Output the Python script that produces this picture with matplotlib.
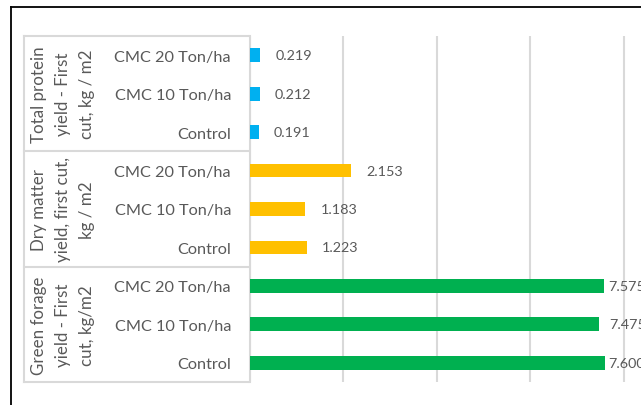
import matplotlib
matplotlib.use("Agg")
import matplotlib.pyplot as plt
from matplotlib.lines import Line2D
import matplotlib.transforms as mtransforms

# ---- data ----
groups = ["Total protein\nyield - First\ncut, kg / m2",
          "Dry matter\nyield, first cut,\nkg / m2",
          "Green forage\nyield - First\ncut, kg/m2"]
treatments = ["CMC 20 Ton/ha", "CMC 10 Ton/ha", "Control"]
protein = [0.219, 0.212, 0.191]
dry_matter = [2.153, 1.183, 1.223]
green_forage = [7.575, 7.475, 7.600]
x_ticks = [0, 2, 4, 6, 8, 10]

# ---- style ----
colors = ["#00B0F0", "#FFC000", "#00B050"]
label_pad_px = [15, 15, 15, 16, 16, 15, 4, 10, 3]
text_color = "#595959"
grid_color = "#D9D9D9"
font = "Lato"

W, H, DPI = 641, 406, 100
fig = plt.figure(figsize=(W / DPI, H / DPI), dpi=DPI)
fig.patch.set_facecolor("white")

ax_left, ax_right = 250, 717
ax_top, ax_bot = 37, 383
ax = fig.add_axes([ax_left / W, 1 - ax_bot / H, (ax_right - ax_left) / W, (ax_bot - ax_top) / H])

series = [protein, dry_matter, green_forage]
values, cols, cats = [], [], []
for gi, s in enumerate(series):
    for ti, v in enumerate(s):
        values.append(v)
        cols.append(colors[gi])
        cats.append(treatments[ti])
ypos = list(range(len(values)))

ax.barh(ypos, values, height=0.36, color=cols, zorder=3)
ax.set_xlim(x_ticks[0], x_ticks[-1])
ax.set_ylim(len(values) - 0.5, -0.5)
ax.set_xticks(x_ticks)
ax.set_xticklabels([])
ax.tick_params(axis="x", length=0)
ax.grid(axis="x", color=grid_color, linewidth=1.5, zorder=0)
ax.set_yticks(ypos)
ax.set_yticklabels(cats, fontsize=11.7, color=text_color, fontfamily=font)
ax.tick_params(axis="y", length=0, pad=19 * 72 / DPI)
for sp in ["top", "right", "bottom"]:
    ax.spines[sp].set_visible(False)
ax.spines["left"].set_color(grid_color)
ax.spines["left"].set_linewidth(1.5)

# value labels
for y, v, p in zip(ypos, values, label_pad_px):
    off = mtransforms.offset_copy(ax.transData, fig=fig, x=p * 72 / DPI, y=0, units="points")
    ax.text(v, y, f"{v:.3f}", transform=off, ha="left", va="center",
            fontsize=10.4, color=text_color, fontfamily=font, clip_on=False)

# multilevel category boxes
blend = mtransforms.blended_transform_factory(fig.transFigure, ax.transData)
box_left = 24 / W
box_right = (ax_left - 2) / W
n = len(treatments)
for k in range(len(groups) + 1):
    yb = k * n - 0.5
    ax.add_line(Line2D([box_left, box_right], [yb, yb], transform=blend,
                       color=grid_color, linewidth=1.5, clip_on=False))
ax.add_line(Line2D([box_left, box_left], [-0.5, len(values) - 0.5], transform=blend,
                   color=grid_color, linewidth=1.5, clip_on=False))
for gi, g in enumerate(groups):
    yc = gi * n + (n - 1) / 2
    ax.text(63 / W, yc, g, transform=blend, rotation=90, ha="center", va="center",
            multialignment="center", fontsize=12.2, color=text_color,
            fontfamily=font, linespacing=1.6)

# outer chart border
fig.add_artist(Line2D([10.5 / W, 10.5 / W], [0, 1 - 7.5 / H], transform=fig.transFigure,
                      color="black", linewidth=1.3))
fig.add_artist(Line2D([10.5 / W, 1], [1 - 7.5 / H, 1 - 7.5 / H], transform=fig.transFigure,
                      color="black", linewidth=1.3))

fig.savefig("out.png", dpi=DPI)
